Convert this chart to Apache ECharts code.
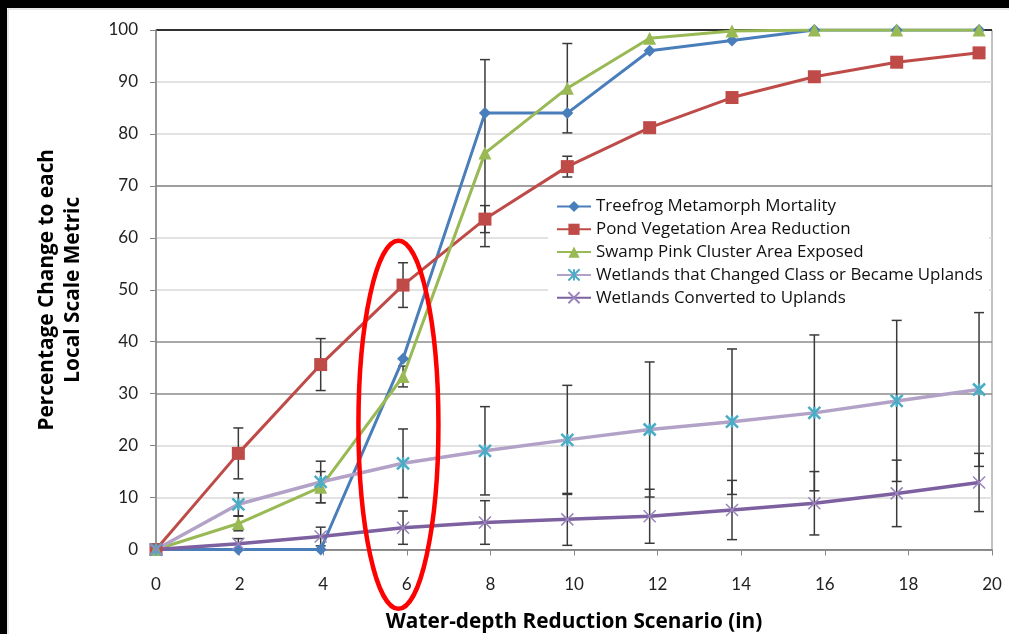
<!DOCTYPE html>
<html>
<head>
<meta charset="utf-8">
<script src="https://cdn.jsdelivr.net/npm/echarts@6/dist/echarts.min.js"></script>
<style>
html,body{margin:0;padding:0;background:#fff;}
#c{width:1009px;height:634px;}
</style>
</head>
<body>
<div id="c"></div>
<script>
// x positions (inches; scenarios are 5 cm steps)
var xValues = [0, 1.97, 3.94, 5.91, 7.87, 9.84, 11.81, 13.78, 15.75, 17.72, 19.69];
var seriesNames = [
  'Treefrog Metamorph Mortality',
  'Pond Vegetation Area Reduction',
  'Swamp Pink Cluster Area Exposed',
  'Wetlands that Changed Class or Became Uplands',
  'Wetlands Converted to Uplands'
];
var treefrog  = [0, 0, 0, 36.7, 84, 84, 96, 98, 100, 100, 100];
var pond      = [0, 18.5, 35.6, 50.9, 63.6, 73.7, 81.2, 87.0, 91.0, 93.8, 95.6];
var swamp     = [0, 5.0, 12.0, 33.3, 76.3, 88.8, 98.4, 99.8, 100, 100, 100];
var changed   = [0, 8.7, 13.0, 16.6, 19.0, 21.1, 23.1, 24.6, 26.3, 28.6, 30.8];
var converted = [0, 1.1, 2.5, 4.2, 5.2, 5.8, 6.4, 7.6, 8.9, 10.8, 12.9];
// error bar half-widths (null = none)
var pondErr      = [null, 4.9, 5.0, 4.3, 2.6, 2.0, null, null, null, null, null];
var swampErr     = [null, 1.4, 3.0, 2.0, 18.0, 8.6, null, null, null, null, null];
var changedErr   = [null, 2.2, 4.0, 6.6, 8.5, 10.5, 13.0, 14.0, 15.0, 15.5, 14.8];
var convertedErr = [null, 1.0, 1.8, 3.2, 4.2, 5.0, 5.2, 5.7, 6.1, 6.4, 5.6];
var xTicks = [0, 2, 4, 6, 8, 10, 12, 14, 16, 18, 20];
var yTicks = [0, 10, 20, 30, 40, 50, 60, 70, 80, 90, 100];

function pairs(vals) {
  return xValues.map(function (x, i) { return [x, vals[i]]; });
}
function errData(vals, errs) {
  var out = [];
  for (var i = 0; i < xValues.length; i++) {
    if (errs[i] != null) out.push([xValues[i], vals[i], errs[i]]);
  }
  return out;
}
function renderErr(params, api) {
  var x = api.value(0), y = api.value(1), e = api.value(2);
  var hi = api.coord([x, y + e]), lo = api.coord([x, y - e]);
  var w = 5;
  var st = { stroke: '#3a3a3a', lineWidth: 1.5 };
  return {
    type: 'group',
    children: [
      { type: 'line', shape: { x1: hi[0], y1: hi[1], x2: lo[0], y2: lo[1] }, style: st },
      { type: 'line', shape: { x1: hi[0] - w, y1: hi[1], x2: hi[0] + w, y2: hi[1] }, style: st },
      { type: 'line', shape: { x1: lo[0] - w, y1: lo[1], x2: lo[0] + w, y2: lo[1] }, style: st }
    ]
  };
}
function errSeries(name, vals, errs) {
  return {
    name: name, type: 'custom', renderItem: renderErr, z: 1,
    data: errData(vals, errs), encode: { x: 0, y: 1 }, silent: true
  };
}

var FONT = 'Lato';
var FONT2 = 'Open Sans';
var gridColors = ['#868686', '#d9d9d9', '#d9d9d9', '#8c8c8c', '#8c8c8c', '#d9d9d9',
                  '#d9d9d9', '#7f7f7f', '#d9d9d9', '#d9d9d9', '#000000'];
var starPath = 'path://M0,0L10,10M10,0L0,10M5,0L5,10';
var xPath = 'path://M0,0L10,10M10,0L0,10';

var chart = echarts.init(document.getElementById('c'), null, { renderer: 'canvas' });
var option = {
  backgroundColor: '#ffffff',
  animation: false,
  textStyle: { fontFamily: FONT },
  grid: { left: 156, right: 17, top: 30, bottom: 84.5, show: true, borderColor: '#868686', borderWidth: 1,
          backgroundColor: 'transparent', containLabel: false, outerBoundsMode: 'none' },
  xAxis: {
    type: 'value', min: 0, max: 20, interval: 2,
    name: 'Water-depth Reduction Scenario (in)', nameLocation: 'middle', nameGap: 62,
    nameTextStyle: { fontFamily: FONT2, fontWeight: 'bold', fontSize: 20.8, color: '#000' },
    axisLine: { show: true, lineStyle: { color: '#868686', width: 1.5 } },
    axisTick: { show: true, length: 6, lineStyle: { color: '#868686' } },
    axisLabel: { margin: 27, fontSize: 17, color: '#222', fontFamily: FONT,
      formatter: function (v) { return xTicks.indexOf(v) >= 0 ? String(v) : ''; } },
    splitLine: { show: false }
  },
  yAxis: {
    type: 'value', min: 0, max: 100, interval: 10,
    name: 'Percentage Change to each\nLocal Scale Metric', nameLocation: 'middle', nameGap: 70, nameRotate: 90,
    nameTextStyle: { fontFamily: FONT2, fontWeight: 'bold', fontSize: 20.8, color: '#000', lineHeight: 26 },
    axisLine: { show: true, lineStyle: { color: '#868686', width: 1.5 } },
    axisTick: { show: true, length: 6, lineStyle: { color: '#868686' } },
    axisLabel: { margin: 18, fontSize: 17, color: '#222', fontFamily: FONT,
      formatter: function (v) { return yTicks.indexOf(v) >= 0 ? String(v) : ''; } },
    splitLine: { show: true, lineStyle: { color: gridColors, width: 1.5 } }
  },
  legend: {
    orient: 'vertical', left: 548, top: 194,
    data: seriesNames,
    backgroundColor: '#ffffff', padding: [4, 6, 4, 8],
    itemWidth: 34, itemHeight: 14, itemGap: 5.8,
    textStyle: { fontFamily: FONT2, fontSize: 16.9, color: '#111', lineHeight: 17 }
  },
  series: [
    errSeries('err-pond', pond, pondErr),
    errSeries('err-swamp', swamp, swampErr),
    errSeries('err-changed', changed, changedErr),
    errSeries('err-converted', converted, convertedErr),
    { name: seriesNames[0], type: 'line', data: pairs(treefrog), z: 3,
      symbol: 'diamond', symbolSize: 12,
      lineStyle: { color: '#4A7EBB', width: 3 }, itemStyle: { color: '#4A7EBB' } },
    { name: seriesNames[1], type: 'line', data: pairs(pond), z: 3,
      symbol: 'rect', symbolSize: 13,
      lineStyle: { color: '#BE4B48', width: 3 }, itemStyle: { color: '#BE4B48' } },
    { name: seriesNames[2], type: 'line', data: pairs(swamp), z: 3,
      symbol: 'triangle', symbolSize: 13,
      lineStyle: { color: '#98B954', width: 3 }, itemStyle: { color: '#98B954' } },
    { name: seriesNames[3], type: 'line', data: pairs(changed), z: 3,
      symbol: starPath, symbolSize: 12,
      lineStyle: { color: '#B3A2C7', width: 3.5 },
      itemStyle: { color: '#4BACC6', borderColor: '#4BACC6', borderWidth: 2.5 } },
    { name: seriesNames[4], type: 'line', data: pairs(converted), z: 3,
      symbol: xPath, symbolSize: 12,
      lineStyle: { color: '#7D60A0', width: 3.5 },
      itemStyle: { color: '#9A84BC', borderColor: '#9A84BC', borderWidth: 1.5 } }
  ]
};
chart.setOption(option);

var ctr = chart.convertToPixel({ gridIndex: 0 }, [5.8, 24]);
chart.setOption({
  graphic: [
    { type: 'rect', shape: { x: 0, y: 0, width: 1009, height: 8 }, style: { fill: '#000' }, z: 100 },
    { type: 'rect', shape: { x: 0, y: 0, width: 7, height: 634 }, style: { fill: '#000' }, z: 100 },
    { type: 'line', shape: { x1: 8, y1: 9, x2: 1009, y2: 9 }, style: { stroke: '#d0d0d0', lineWidth: 1 }, z: 100 },
    { type: 'line', shape: { x1: 8, y1: 9, x2: 8, y2: 634 }, style: { stroke: '#d0d0d0', lineWidth: 1 }, z: 100 },
    { type: 'ellipse', shape: { cx: ctr[0], cy: ctr[1], rx: 40, ry: 184 },
      style: { fill: null, stroke: '#FF0000', lineWidth: 4.5 }, z: 100 }
  ]
});
</script>
</body>
</html>
